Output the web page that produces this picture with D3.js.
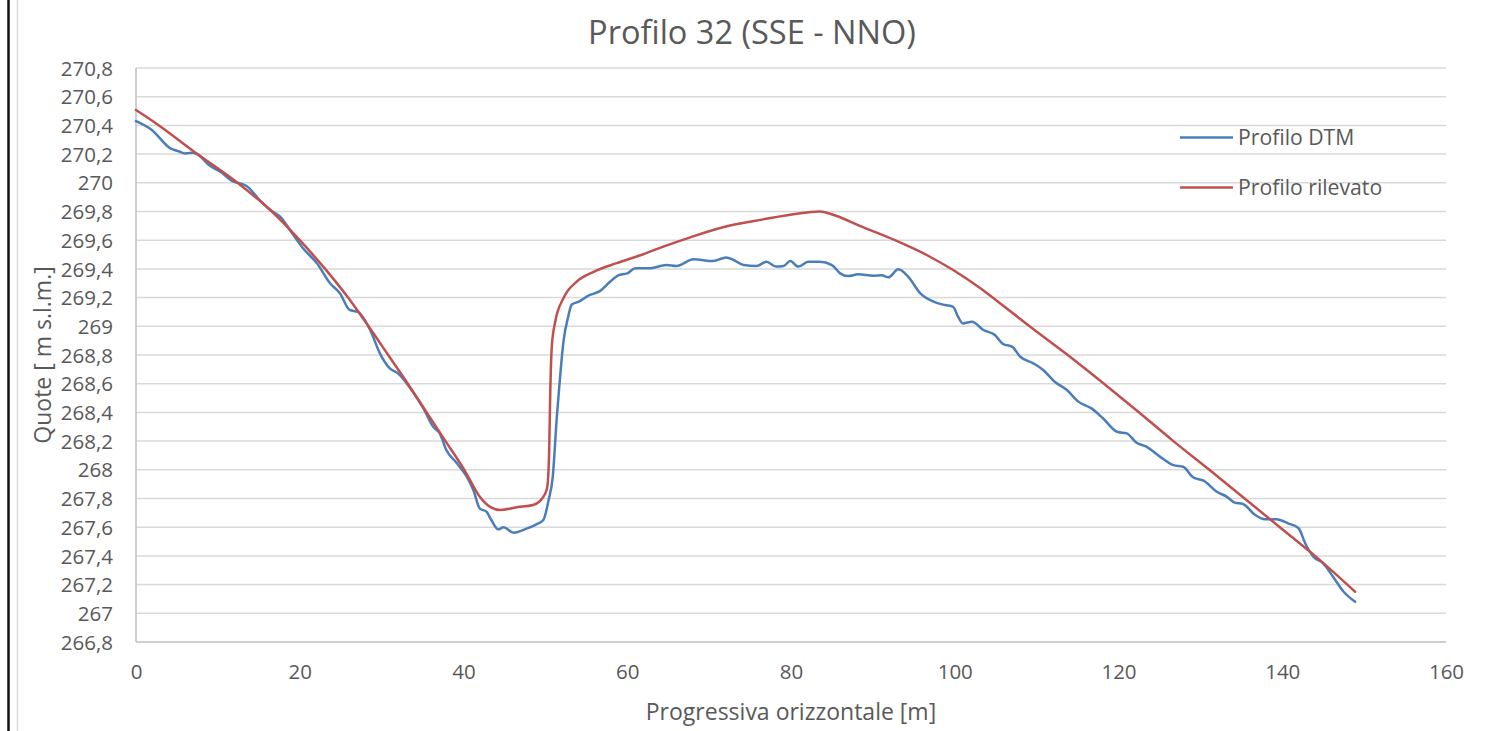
<!DOCTYPE html>
<html>
<head>
<meta charset="utf-8">
<script src="https://cdn.jsdelivr.net/npm/d3@7"></script>
<style>
  body { margin: 0; background: #fff; }
  svg { display: block; font-family: "Open Sans", sans-serif; }
  .tick text { fill: #595959; }
</style>
</head>
<body>
<svg id="plot" width="1500" height="731"></svg>
<script>
// Profilo DTM (progressiva [m], quota [m s.l.m.])
const dtmX = [0, 1.9, 4.2, 5.2, 6.0, 7.0, 7.6, 9.0, 10.3, 11.9, 12.7, 13.5, 15.1, 16.4, 17.8, 18.8,
  20.4, 22.1, 23.7, 24.9, 26.1, 27.1, 28.6, 29.8, 31.0, 32.0, 33.5, 35.1, 36.3, 37.1, 37.9, 39.2,
  40.4, 41.2, 42.0, 42.8, 43.4, 44.25, 44.9, 46.1, 47.7, 48.9, 49.75, 50.4, 50.9, 51.4, 51.8, 52.2,
  52.8, 53.2, 54.1, 55.3, 56.7, 57.9, 58.9, 60.0, 61.0, 62.6, 64.8, 66.0, 68.1, 70.5, 72.1, 73.0,
  74.2, 75.8, 77.0, 78.2, 79.1, 79.9, 80.9, 82.1, 83.5, 85.0, 86.0, 87.0, 88.2, 90.1, 91.1, 91.9,
  93.1, 94.3, 95.8, 97.4, 98.8, 99.8, 100.4, 101.0, 102.1, 103.5, 104.9, 105.9, 107.0, 108.0, 109.6,
  110.8, 112.2, 113.7, 115.1, 116.7, 118.1, 119.9, 121.0, 122.2, 123.4, 125.1, 126.7, 127.9, 129.1,
  130.4, 132.0, 133.2, 134.2, 135.2, 136.7, 137.9, 139.3, 140.7, 142.0, 142.8, 143.8, 145.0, 146.2,
  147.5, 148.9];
const dtmZ = [270.43, 270.37, 270.24, 270.22, 270.205, 270.21, 270.195, 270.12, 270.077, 270.008,
  269.996, 269.978, 269.88, 269.81, 269.753, 269.671, 269.544, 269.439, 269.30, 269.23, 269.114,
  269.10, 268.974, 268.81, 268.707, 268.672, 268.568, 268.428, 268.30, 268.254, 268.138, 268.045,
  267.952, 267.859, 267.73, 267.708, 267.65, 267.585, 267.599, 267.562, 267.59, 267.62, 267.65,
  267.79, 267.95, 268.37, 268.65, 268.89, 269.07, 269.15, 269.172, 269.215, 269.247, 269.31, 269.355,
  269.369, 269.404, 269.404, 269.427, 269.42, 269.467, 269.455, 269.48, 269.462, 269.427, 269.42,
  269.45, 269.416, 269.42, 269.455, 269.416, 269.45, 269.45, 269.427, 269.369, 269.35, 269.362,
  269.353, 269.355, 269.341, 269.397, 269.346, 269.23, 269.172, 269.148, 269.136, 269.067, 269.02,
  269.032, 268.974, 268.94, 268.877, 268.858, 268.788, 268.742, 268.696, 268.614, 268.556, 268.475,
  268.428, 268.359, 268.263, 268.254, 268.189, 268.161, 268.09, 268.033, 268.021, 267.948, 267.924,
  267.847, 267.813, 267.771, 267.762, 267.685, 267.655, 267.655, 267.627, 267.593, 267.488, 267.394,
  267.348, 267.255, 267.15, 267.08];

// Profilo rilevato
const rilX = [0, 2.8, 7.5, 12.4, 16.6, 20.0, 23.1, 25.9, 28.4, 30.8, 33.2, 35.5, 37.8, 40.1, 41.9,
  43.3, 44.5, 46.5, 48.5, 49.6, 50.2, 50.45, 50.6, 50.8, 51.2, 52.2, 53.8, 55.9, 58.7, 61.6, 64.4,
  67.7, 71.7, 76.6, 80.7, 83.5, 85.5, 88.4, 92.7, 96.8, 100.0, 103.0, 106.0, 109.5, 113.8, 118.0,
  122.3, 126.7, 131.1, 135.4, 139.7, 144.0, 148.9];
const rilZ = [270.507, 270.4, 270.2, 270.0, 269.8, 269.6, 269.4, 269.2, 269.0, 268.8, 268.6, 268.4,
  268.2, 268.0, 267.82, 267.74, 267.72, 267.739, 267.755, 267.80, 267.87, 268.1, 268.55, 268.87,
  269.03, 269.195, 269.31, 269.38, 269.44, 269.495, 269.555, 269.62, 269.69, 269.745, 269.785, 269.80,
  269.77, 269.70, 269.60, 269.49, 269.385, 269.27, 269.14, 268.985, 268.80, 268.61, 268.41, 268.20,
  268.0, 267.8, 267.6, 267.4, 267.15];

const xTicks = [0, 20, 40, 60, 80, 100, 120, 140, 160];
const yTicks = [266.8, 267, 267.2, 267.4, 267.6, 267.8, 268, 268.2, 268.4, 268.6, 268.8, 269,
  269.2, 269.4, 269.6, 269.8, 270, 270.2, 270.4, 270.6, 270.8];

const seriesNames = ["Profilo DTM", "Profilo rilevato"];
const seriesColors = ["#4a7ebb", "#c0504d"];

const svg = d3.select("#plot");
const textColor = "#595959";

// outer frame pieces visible in the screenshot
svg.append("line").attr("x1", 8.5).attr("x2", 8.5).attr("y1", 0).attr("y2", 731)
  .attr("stroke", "#111").attr("stroke-width", 2.5);
svg.append("line").attr("x1", 17.5).attr("x2", 17.5).attr("y1", 0).attr("y2", 731)
  .attr("stroke", "#d9d9d9").attr("stroke-width", 1.5);

const plotLeft = 136, plotRight = 1446, plotTop = 68, plotBottom = 642;

const x = d3.scaleLinear().domain([0, 160]).range([plotLeft, plotRight]);
const y = d3.scaleLinear().domain([266.8, 270.8]).range([plotBottom, plotTop]);

const fmt = v => {
  const s = d3.format(".1f")(v);
  return (s.endsWith(".0") ? s.slice(0, -2) : s).replace(".", ",");
};

// horizontal gridlines
svg.append("g").selectAll("line")
  .data(yTicks.slice(1))
  .enter().append("line")
  .attr("x1", plotLeft).attr("x2", plotRight)
  .attr("y1", d => y(d)).attr("y2", d => y(d))
  .attr("stroke", "#d9d9d9").attr("stroke-width", 1.5);

// axes lines
svg.append("line").attr("x1", plotLeft).attr("x2", plotLeft).attr("y1", plotTop).attr("y2", plotBottom)
  .attr("stroke", "#bfbfbf").attr("stroke-width", 1.5);
svg.append("line").attr("x1", plotLeft).attr("x2", plotRight).attr("y1", plotBottom).attr("y2", plotBottom)
  .attr("stroke", "#bfbfbf").attr("stroke-width", 1.5);

const yAxis = svg.append("g")
  .attr("transform", "translate(" + (plotLeft - 23) + ",0)")
  .call(d3.axisLeft(y).tickValues(yTicks).tickFormat(fmt).tickSize(0).tickPadding(0));
yAxis.select(".domain").remove();
yAxis.selectAll("text").attr("font-size", 20.5).attr("font-family", "Open Sans").attr("dy", "0.35em");

const xAxis = svg.append("g")
  .attr("transform", "translate(0," + plotBottom + ")")
  .call(d3.axisBottom(x).tickValues(xTicks).tickFormat(d3.format("d")).tickSize(0).tickPadding(22));
xAxis.select(".domain").remove();
xAxis.selectAll("text").attr("font-size", 20.5).attr("font-family", "Open Sans");

// series
const lineGen = d3.line()
  .x(d => x(d[0]))
  .y(d => y(d[1]))
  .curve(d3.curveMonotoneX);

const series = [d3.zip(dtmX, dtmZ), d3.zip(rilX, rilZ)];

svg.append("g").selectAll("path")
  .data(series)
  .enter().append("path")
  .attr("d", lineGen)
  .attr("fill", "none")
  .attr("stroke", (d, i) => seriesColors[i])
  .attr("stroke-width", 2.5)
  .attr("stroke-linejoin", "round")
  .attr("stroke-linecap", "round");

// title
svg.append("text")
  .attr("x", 752).attr("y", 44)
  .attr("text-anchor", "middle")
  .attr("font-size", 32.5)
  .attr("fill", textColor)
  .text("Profilo 32 (SSE - NNO)");

// axis titles
svg.append("text")
  .attr("x", (plotLeft + plotRight) / 2).attr("y", 720)
  .attr("text-anchor", "middle")
  .attr("font-size", 23)
  .attr("fill", textColor)
  .text("Progressiva orizzontale [m]");

svg.append("text")
  .attr("transform", "translate(51," + (plotTop + plotBottom) / 2 + ") rotate(-90)")
  .attr("text-anchor", "middle")
  .attr("font-size", 23)
  .attr("fill", textColor)
  .text("Quote [ m s.l.m.]");

// legend
const legend = svg.append("g").selectAll("g")
  .data(seriesNames)
  .enter().append("g")
  .attr("transform", (d, i) => "translate(1180," + (137.5 + i * 50) + ")");

legend.append("line")
  .attr("x1", 0).attr("x2", 53)
  .attr("stroke", (d, i) => seriesColors[i])
  .attr("stroke-width", 2.5);

legend.append("text")
  .attr("x", 58).attr("dy", "0.35em")
  .attr("font-size", 21.2)
  .attr("fill", textColor)
  .text(d => d);
</script>
</body>
</html>
